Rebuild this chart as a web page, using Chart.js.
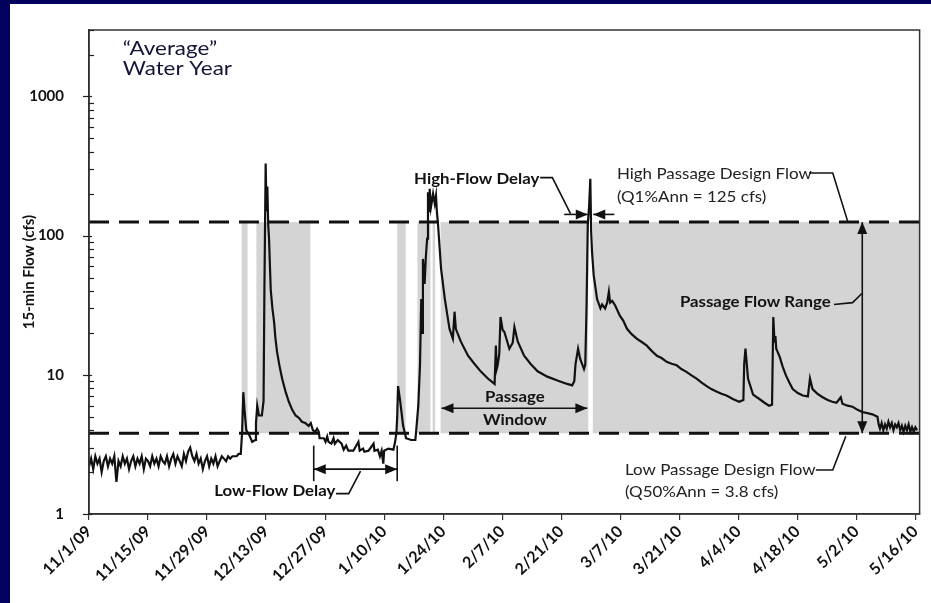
<!DOCTYPE html>
<html><head><meta charset="utf-8">
<script src="https://cdn.jsdelivr.net/npm/chart.js@4.4.1/dist/chart.umd.min.js"></script>
<style>
html,body{margin:0;padding:0;background:#02025e;width:931px;height:603px;overflow:hidden}
#panel{position:absolute;left:10px;top:4px;width:921px;height:599px;background:#fff}
canvas{display:block}
</style></head><body>
<div id="panel"><canvas id="c" width="921" height="599"></canvas></div>
<script>
// ---- data ----
const tickLabels = ['11/1/09','11/15/09','11/29/09','12/13/09','12/27/09','1/10/10','1/24/10','2/7/10','2/21/10','3/7/10','3/21/10','4/4/10','4/18/10','5/2/10','5/16/10'];
const tickDays = [0,14,28,42,56,70,84,98,112,126,140,154,168,182,196];
const yTickValues = [1,2,3,4,5,6,7,8,9,10,20,30,40,50,60,70,80,90,100,200,300,400,500,600,700,800,900,1000,2000,3000];
const yLabelValues = [1,10,100,1000];

const flowDays = [
0,0.5,1,1.5,2,2.5,3,3.5,4,4.5,5,5.5,6,6.5,7,7.5,8,8.5,9,9.5,10,10.5,11,11.5,12,12.5,13,13.5,14,14.5,15,15.5,16,16.5,17,17.5,18,18.5,19,19.5,20,20.5,21,21.5,22,22.5,23,23.5,24,24.5,25,25.5,26,26.5,27,27.5,28,28.5,29,29.5,30,30.5,31,31.5,32,32.5,33,33.5,34,34.5,35,35.5,36,
36.3,36.6,36.9,37.3,38.0,38.7,39.4,39.6,39.9,40.3,41.0,41.4,41.6,41.9,42.1,42.3,42.5,42.7,43.1,43.5,43.9,44.2,44.6,45.2,45.8,46.6,47.4,48.2,49.0,49.8,50.5,51.3,52.1,52.6,53.1,53.7,54.1,54.5,54.7,55.7,56.1,56.5,56.8,57.5,58.0,58.3,59.0,59.9,60.4,61.0,61.5,62.7,63.9,64.2,65.0,65.3,66.3,67.5,67.7,68.5,69.0,69.4,69.8,70.0,71.0,72.2,72.6,72.9,73.1,73.3,73.8,74.5,75.2,76.4,77.4,77.6,
78.1,78.5,78.8,79.0,79.2,79.6,79.9,80.2,80.4,80.7,80.8,81.1,81.6,82.0,82.3,82.5,82.8,83.5,84.4,85.5,86.3,86.7,87.0,88.2,89.9,91.4,93.0,94.6,96.2,96.5,96.7,96.9,97.3,97.6,98.1,98.5,99.7,100.5,100.9,101.7,103.2,104.7,106.4,108.7,111.1,113.4,114.6,115.1,115.4,116.0,116.5,117.4,117.7,118.0,118.3,118.6,118.9,119.1,119.3,119.7,
120.5,121.3,121.7,122.4,122.9,123.3,123.6,124.1,124.8,125.9,126.7,127.6,128.7,129.9,131.1,132.3,133.5,134.7,135.8,137.0,138.2,139.4,140.5,141.7,142.9,144.1,145.3,146.5,147.6,148.8,150.0,151.2,152.7,154.2,155.2,155.4,155.7,156.3,157.5,159.0,160.2,161.3,162.0,162.3,162.6,162.8,163.0,163.8,164.5,165.3,166.1,166.9,168.1,169.3,170.5,171.0,171.6,172.8,174.0,175.2,176.3,177.3,178.3,178.7,179.9,181.1,182.3,183.4,184.6,185.8,187.0,
187.3,187.6,188.0,188.4,188.8,189.2,189.6,190.0,190.4,190.8,191.2,191.6,192.0,192.4,192.8,193.2,193.6,194.0,194.4,194.8,195.2,195.6,196.0,196.4];
const flowValues = [
2.2,2.5,2.1,2.6,2.3,2.5,2.0,2.4,2.6,2.2,2.5,2.3,2.6,1.7,2.4,2.2,2.6,2.3,2.5,2.1,2.4,2.6,2.2,2.5,2.3,2.6,2.1,2.5,2.4,2.2,2.6,2.3,2.5,2.2,2.6,2.4,2.3,2.6,2.2,2.5,2.7,2.3,2.6,2.4,2.2,2.7,2.4,2.8,3.0,2.6,2.4,2.7,2.3,2.5,2.1,2.4,2.6,2.2,2.5,2.3,2.6,2.2,2.4,2.6,2.5,2.4,2.6,2.5,2.6,2.6,2.6,2.7,2.7,
3.8,7.5,5.5,4.0,3.7,3.3,3.4,4.5,6.0,5.1,5.1,6.5,40,330,150,225,120,95,41,30,24,18.5,14.6,11.5,9.4,7.6,6.4,5.6,5.1,4.9,4.6,4.5,4.3,4.5,4.0,3.9,4.1,3.9,3.5,3.5,3.3,3.6,3.3,3.2,3.5,3.2,3.4,3.2,2.9,3.1,2.85,2.85,3.3,2.85,2.95,2.8,2.85,3.2,2.85,2.9,2.6,2.85,2.3,2.85,2.95,2.9,3.3,3.8,5.0,8.3,6.5,4.3,3.5,3.4,3.4,3.95,
6,11.6,35,20,68,45,71,95,205,150,217,160,200,170,194,150,118,58,35,21.4,18.2,28.4,21.4,17.3,13.7,12,10.5,9.4,8.6,16.2,11,11.6,14,26,21,20.4,15.4,17,22,17.3,13.7,12,10.6,9.7,9.1,8.6,8.4,9,12,15.4,13,11,11.8,30,120,160,256,107,77,52,
35,30,32,30,33,39.5,33,34,31.5,26.6,24.5,21.4,19.6,18.2,17.2,16.2,14.8,13.7,13.2,12.4,12.0,11.7,11.0,10.5,9.9,9.4,8.8,8.3,7.9,7.6,7.3,7.1,6.7,6.4,6.6,12,15.4,9.4,7.2,6.7,6.3,6.0,6.1,26,17,19,15.4,13.5,11.5,9.9,8.8,7.9,7.4,7.1,7.0,9.4,7.9,7.3,6.9,6.6,6.4,6.3,6.9,6.2,6.0,5.9,5.6,5.4,5.3,5.2,5.0,
4.4,4.1,4.5,4.0,4.4,4.1,4.6,4.2,4.5,4.0,4.4,4.2,4.5,4.0,4.3,3.9,4.3,4.0,4.4,3.9,4.2,3.9,4.2,4.0];

const bandStart = [36.2, 39.7, 73.1, 77.9, 81.5, 83.4, 119.5];
const bandEnd   = [37.6, 52.5, 75.1, 81.0, 82.1, 118.4, 197];
const highDesignFlow = 125;
const lowDesignFlow = 3.8;
const xMin = 0, xMax = 197, yMin = 1, yMax = 3000;

// ---- helpers ----
const FAM = 'Lato, "Open Sans", sans-serif';
function arrowHead(ctx, x, y, dx, dy, len, half) {
  const L = Math.hypot(dx, dy); const ux = dx / L, uy = dy / L;
  ctx.beginPath();
  ctx.moveTo(x, y);
  ctx.lineTo(x - ux * len - uy * half, y - uy * len + ux * half);
  ctx.lineTo(x - ux * len + uy * half, y - uy * len - ux * half);
  ctx.closePath(); ctx.fill();
}
function arrow(ctx, x1, y1, x2, y2, both) {
  ctx.beginPath(); ctx.moveTo(x1, y1); ctx.lineTo(x2, y2); ctx.stroke();
  arrowHead(ctx, x2, y2, x2 - x1, y2 - y1, 12, 5);
  if (both) arrowHead(ctx, x1, y1, x1 - x2, y1 - y2, 12, 5);
}
function poly(ctx, pts) {
  ctx.beginPath(); ctx.moveTo(pts[0][0], pts[0][1]);
  for (let i = 1; i < pts.length; i++) ctx.lineTo(pts[i][0], pts[i][1]);
  ctx.stroke();
}
function txt(ctx, s, x, y, font, align, color, sx) {
  ctx.save();
  ctx.font = font; ctx.fillStyle = color || '#111';
  ctx.textAlign = align || 'left'; ctx.textBaseline = 'middle';
  ctx.translate(x, y); ctx.scale(sx || 1, 1);
  ctx.fillText(s, 0, 0);
  ctx.restore();
}

const decor = {
  id: 'decor',
  beforeDatasetsDraw(chart) {
    const { ctx, scales: { x, y } } = chart;
    ctx.save();
    ctx.fillStyle = '#d4d4d4';
    const yt = y.getPixelForValue(highDesignFlow), yb = y.getPixelForValue(lowDesignFlow);
    for (let i = 0; i < bandStart.length; i++) {
      const x1 = x.getPixelForValue(bandStart[i]), x2 = Math.min(x.getPixelForValue(bandEnd[i]), chart.chartArea.right);
      ctx.fillRect(x1, yt, x2 - x1, yb - yt);
    }
    ctx.restore();
  },
  afterDatasetsDraw(chart) {
    const { ctx, chartArea: a, scales: { x, y } } = chart;
    const X = d => x.getPixelForValue(d), Y = v => y.getPixelForValue(v);
    ctx.save();
    // frame
    ctx.strokeStyle = '#333'; ctx.lineWidth = 1.5;
    ctx.strokeRect(a.left, a.top, a.right - a.left, a.bottom - a.top);
    // y tick marks
    ctx.lineWidth = 1.2; ctx.strokeStyle = '#222';
    yTickValues.forEach(v => {
      const py = Math.round(Y(v)) + 0.5;
      const major = yLabelValues.includes(v);
      ctx.beginPath();
      ctx.moveTo(a.left - (major ? 6 : 0), py); ctx.lineTo(a.left + (major ? 3 : 5), py); ctx.stroke();
    });
    ctx.fillStyle = '#111'; ctx.strokeStyle = '#111'; ctx.lineWidth = 1.6;
    const B = 'bold 15px ' + FAM, BS = 1.12;
    const R = '16px ' + FAM, RS = 1.06;
    // Average water year
    txt(ctx, '\u201CAverage\u201D', X(8.0), Y(2190), '20px ' + FAM, 'left', '#14143a', 1.12);
    txt(ctx, 'Water Year', X(8.0), Y(1575), '20px ' + FAM, 'left', '#14143a', 1.12);
    // High-flow delay
    txt(ctx, 'High-Flow Delay', X(77.1), Y(256), B, 'left', '#111', BS);
    poly(ctx, [[X(107.0), Y(261)], [X(109.9), Y(261)], [X(114.2), Y(144)]]);
    arrow(ctx, X(112.7), Y(142), X(118.3), Y(142), false);
    arrow(ctx, X(124.6), Y(142), X(119.6), Y(142), false);
    // Passage window
    arrow(ctx, X(83.6), Y(5.75), X(118.2), Y(5.75), true);
    txt(ctx, 'Passage', X(101.0), Y(6.9), 'bold 16px ' + FAM, 'center', '#111', 1.05);
    txt(ctx, 'Window', X(101.0), Y(4.72), 'bold 16px ' + FAM, 'center', '#111', 1.05);
    // Low-flow delay
    poly(ctx, [[X(53.3), Y(3.1)], [X(53.3), Y(1.72)]]);
    poly(ctx, [[X(73.1), Y(3.1)], [X(73.1), Y(1.72)]]);
    arrow(ctx, X(53.3), Y(2.10), X(73.1), Y(2.10), true);
    txt(ctx, 'Low-Flow Delay', X(29.7), Y(1.46), B, 'left', '#111', BS);
    poly(ctx, [[X(58.6), Y(1.40)], [X(61.6), Y(1.40)], [X(64.4), Y(2.03)]]);
    // High passage design flow
    txt(ctx, 'High Passage Design Flow', X(125.2), Y(278), R, 'left', '#222', RS);
    txt(ctx, '(Q1%Ann = 125 cfs)', X(125.2), Y(190), R, 'left', '#222', RS);
    poly(ctx, [[X(170.8), Y(282)], [X(176.4), Y(282)], [X(180.0), Y(125)]]);
    // Passage flow range
    arrow(ctx, X(183.4), Y(lowDesignFlow), X(183.4), Y(highDesignFlow), true);
    txt(ctx, 'Passage Flow Range', X(175.9), Y(33.0), B, 'right', '#111', BS);
    poly(ctx, [[X(176.7), Y(32)], [X(181.1), Y(33)], [X(183.3), Y(38.4)]]);
    // Low passage design flow
    txt(ctx, 'Low Passage Design Flow', X(127.1), Y(2.07), R, 'left', '#222', RS);
    txt(ctx, '(Q50%Ann = 3.8 cfs)', X(127.1), Y(1.44), R, 'left', '#222', RS);
    poly(ctx, [[X(172.4), Y(2.07)], [X(176.4), Y(2.07)], [X(179.5), Y(3.62)]]);
    ctx.restore();
  }
};

const flowData = flowDays.map((d, i) => ({ x: d, y: flowValues[i] }));
const hiLine = [{ x: xMin, y: highDesignFlow }, { x: xMax, y: highDesignFlow }];
const loLine = [{ x: xMin, y: lowDesignFlow }, { x: xMax, y: lowDesignFlow }];

new Chart(document.getElementById('c'), {
  type: 'line',
  data: {
    datasets: [
      { data: flowData, borderColor: '#111', borderWidth: 2.2, pointRadius: 0, tension: 0, order: 2 },
      { data: hiLine, borderColor: '#111', borderWidth: 3, borderDash: [20, 10], pointRadius: 0, order: 1 },
      { data: loLine, borderColor: '#111', borderWidth: 3, borderDash: [20, 10], pointRadius: 0, order: 1 }
    ]
  },
  options: {
    responsive: false, animation: false, events: [],
    layout: { padding: { left: 0, top: 25, right: 7, bottom: 0 } },
    plugins: { legend: { display: false }, tooltip: { enabled: false } },
    scales: {
      x: {
        type: 'linear', min: xMin, max: xMax,
        afterBuildTicks: s => { s.ticks = tickDays.map(v => ({ value: v })); },
        afterFit: s => { s.height = 89; },
        grid: { display: true, drawOnChartArea: false, tickLength: 6, color: '#333', lineWidth: 1.2 },
        border: { display: true, color: '#333', width: 1.5 },
        ticks: {
          autoSkip: false, minRotation: 45, maxRotation: 45, padding: 2,
          color: '#111', font: { family: FAM, size: 16, weight: 'bold' },
          callback: v => { const i = tickDays.indexOf(v); return i >= 0 ? tickLabels[i] : ''; }
        }
      },
      y: {
        type: 'logarithmic', min: yMin, max: yMax,
        afterBuildTicks: s => { s.ticks = yTickValues.map(v => ({ value: v })); },
        afterFit: s => { s.width = 79; },
        grid: { display: false },
        border: { display: true, color: '#333', width: 1.5 },
        ticks: {
          autoSkip: false, padding: 17, color: '#111',
          font: { family: FAM, size: 15, weight: 'bold' },
          callback: v => (yLabelValues.includes(v) ? String(v) : '')
        },
        title: {
          display: true, text: '15-min Flow (cfs)', color: '#111', padding: { top: 10, bottom: 4 },
          font: { family: FAM, size: 15, weight: 'bold' }
        }
      }
    }
  },
  plugins: [decor]
});
</script>
</body></html>
